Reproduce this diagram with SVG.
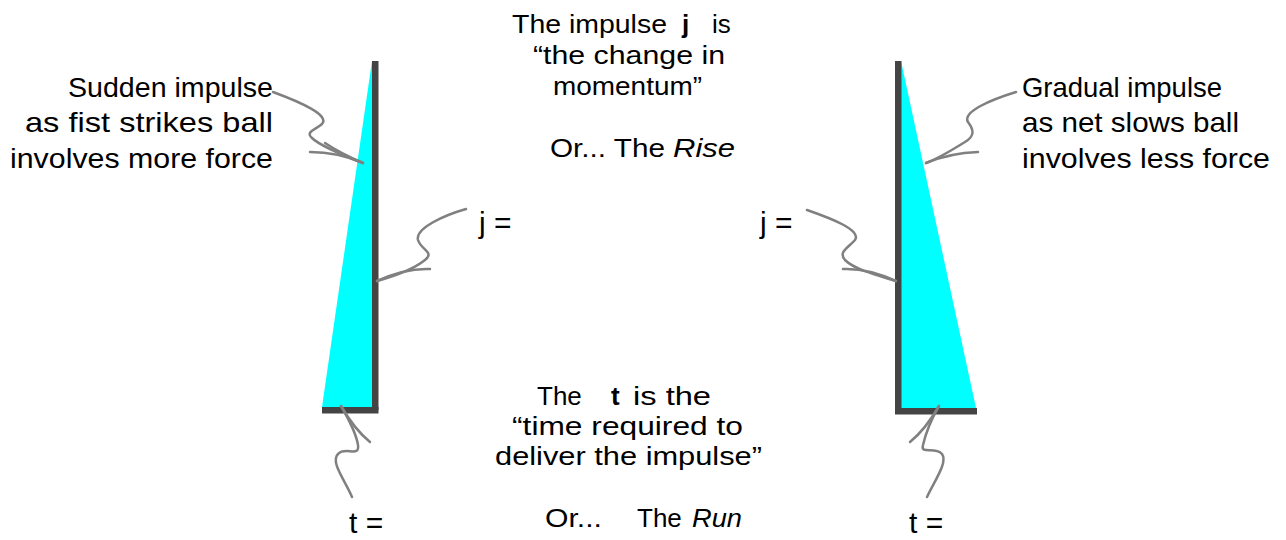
<svg xmlns="http://www.w3.org/2000/svg" width="1286" height="540" viewBox="0 0 1286 540">
<style>
text{font-family:"Liberation Sans",Arial,sans-serif;font-size:28px;fill:#000}
.c{font-size:26px}
.e{font-size:30px}
.b{font-weight:bold}
.i{font-style:italic}
.bar{fill:#444444}
.tri{fill:#00FFFF}
.con{fill:none;stroke:#808080;stroke-width:2.5;stroke-linecap:round}
</style>
<rect width="1286" height="540" fill="#fff"/>
<g id="graph-left">
<polygon class="tri" points="372,61 322,407 372,407"/>
<rect class="bar" x="372" y="61" width="6.5" height="349"/>
<rect class="bar" x="322" y="407" width="56.5" height="6.5"/>
</g>
<g id="graph-right">
<polygon class="tri" points="901,61 976,408 901,408"/>
<rect class="bar" x="895" y="61" width="6.5" height="353"/>
<rect class="bar" x="895" y="408" width="82" height="6.5"/>
</g>
<g id="label-sudden">
<text x="273" y="97" text-anchor="end" textLength="205" lengthAdjust="spacingAndGlyphs">Sudden impulse</text>
<text x="273" y="132" text-anchor="end" textLength="248" lengthAdjust="spacingAndGlyphs">as fist strikes ball</text>
<text x="273" y="168" text-anchor="end" textLength="263" lengthAdjust="spacingAndGlyphs">involves more force</text>
</g>
<g id="label-gradual">
<text x="1022" y="97" textLength="200" lengthAdjust="spacingAndGlyphs">Gradual impulse</text>
<text x="1022" y="132" textLength="217" lengthAdjust="spacingAndGlyphs">as net slows ball</text>
<text x="1022" y="168" textLength="248" lengthAdjust="spacingAndGlyphs">involves less force</text>
</g>
<g id="label-impulse">
<text class="c" y="33"><tspan x="512" textLength="155" lengthAdjust="spacingAndGlyphs">The impulse</tspan><tspan x="682" class="b">j</tspan><tspan x="712">is</tspan></text>
<text class="c" x="533" y="64" textLength="192" lengthAdjust="spacingAndGlyphs">“the change in</text>
<text class="c" x="553" y="95" textLength="149" lengthAdjust="spacingAndGlyphs">momentum”</text>
<text class="c" y="157"><tspan x="550" textLength="115" lengthAdjust="spacingAndGlyphs">Or... The</tspan><tspan x="673" class="i" textLength="62" lengthAdjust="spacingAndGlyphs">Rise</tspan></text>
</g>
<g id="label-time">
<text class="c" y="405"><tspan x="537">The</tspan><tspan x="611" class="b">t</tspan><tspan x="633" textLength="78" lengthAdjust="spacingAndGlyphs">is the</tspan></text>
<text class="c" x="512" y="435" textLength="231" lengthAdjust="spacingAndGlyphs">“time required to</text>
<text class="c" x="495" y="465" textLength="267" lengthAdjust="spacingAndGlyphs">deliver the impulse”</text>
<text class="c" y="527"><tspan x="545" textLength="57" lengthAdjust="spacingAndGlyphs">Or...</tspan><tspan x="637">The</tspan><tspan x="692" class="i" textLength="50" lengthAdjust="spacingAndGlyphs">Run</tspan></text>
</g>
<g id="label-j-left"><text class="e" x="479" y="233">j =</text></g>
<g id="label-j-right"><text class="e" x="760" y="233">j =</text></g>
<g id="label-t-left"><text class="e" x="349" y="533">t =</text></g>
<g id="label-t-right"><text class="e" x="909" y="533">t =</text></g>
<g id="connectors">
<path class="con" d="M273,92 C300,102 330,115 322,124 C315,130 305,132 312,138 C320,146 345,156 363,163"/>
<path class="con" d="M363,163 Q338,152 310,152 M363,163 Q340,153 325,143"/>
<path class="con" d="M1016,92 C990,100 962,112 968,122 C974,130 975,136 965,142 C952,150 940,158 926,163"/>
<path class="con" d="M926,163 Q950,153 978,152"/>
<path class="con" d="M466,209 C445,215 415,228 418,240 C421,250 435,252 425,260 C415,268 395,276 377,281"/>
<path class="con" d="M377,281 Q405,268 430,269"/>
<path class="con" d="M807,210 C830,218 862,230 855,240 C848,248 838,252 845,260 C855,270 880,276 896,281"/>
<path class="con" d="M896,281 Q868,268 843,269"/>
<path class="con" d="M352,497 C345,480 330,462 338,454 C345,446 360,458 358,445 C356,432 348,418 341,406"/>
<path class="con" d="M341,406 Q355,430 370,442"/>
<path class="con" d="M927,497 C935,480 948,462 942,454 C935,446 920,455 923,445 C926,432 932,418 939,406"/>
<path class="con" d="M939,406 Q925,430 910,442"/>
</g>
</svg>
